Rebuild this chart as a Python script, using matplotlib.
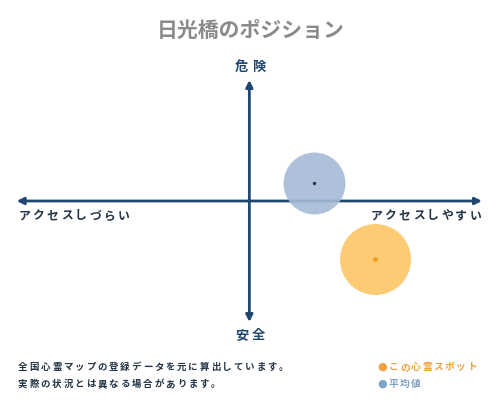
import matplotlib
matplotlib.use('Agg')
import matplotlib.pyplot as plt

plt.rcParams['font.family'] = ['Noto Sans CJK JP', 'DejaVu Sans']

# positions on the map, -1..1 on each axis (x: access, y: danger)
avg_x, avg_y = 0.28, 0.15
spot_x, spot_y = 0.54, -0.48

title = '日光橋のポジション'
label_top = '危険'
label_bottom = '安全'
label_left = 'アクセスしづらい'
label_right = 'アクセスしやすい'
note_lines = ['全国心霊マップの登録データを元に算出しています。',
              '実際の状況とは異なる場合があります。']
legend_labels = ['この心霊スポット', '平均値']

navy = '#1f4670'
orange = '#fdc665'
blue = '#a6bbd6'

fig = plt.figure(figsize=(5, 4), dpi=100)
W, H = 500, 400


def spaced(x0, y0, s, step, **kw):
    # reference text is letter spaced, so place one glyph at a time
    for i, ch in enumerate(s):
        fig.text((x0 + step * (i + 0.5)) / W, 1 - y0 / H, ch,
                 ha='center', va='center', **kw)


ax = fig.add_axes([16.7 / W, 1 - 322 / H, (482 - 16.7) / W, (322 - 80) / H])
ax.set_xlim(-1, 1)
ax.set_ylim(-1, 1)
ax.axis('off')

ax.annotate('', xy=(1, 0), xytext=(-1, 0),
            arrowprops=dict(arrowstyle='<|-|>', color=navy, lw=2,
                            mutation_scale=10, shrinkA=0, shrinkB=0),
            annotation_clip=False)
ax.annotate('', xy=(0, 1), xytext=(0, -1),
            arrowprops=dict(arrowstyle='<|-|>', color=navy, lw=2,
                            mutation_scale=10, shrinkA=0, shrinkB=0),
            annotation_clip=False)

ax.scatter([avg_x], [avg_y], s=1990, color=blue, alpha=0.9, zorder=3, linewidths=0)
ax.scatter([avg_x], [avg_y], s=2, color='#223344', zorder=4)
ax.scatter([spot_x], [spot_y], s=2612, color=orange, alpha=0.9, zorder=3, linewidths=0)
ax.scatter([spot_x], [spot_y], s=6, color='#f0a020', zorder=4)

fig.text(251 / W, 1 - 30 / H, title, ha='center', va='center', fontsize=15,
         color='#8a8a8a', fontweight='bold')
spaced(233, 67, label_top, 17, fontsize=9.5, color=navy, fontweight='bold')
spaced(233, 335, label_bottom, 17, fontsize=9.5, color=navy, fontweight='bold')
spaced(17, 216, label_left, 14.2, fontsize=8.5, color='#223344', fontweight='bold')
spaced(369, 216, label_right, 14.2, fontsize=8.5, color='#223344', fontweight='bold')

for i, line in enumerate(note_lines):
    spaced(17, 367 + 17 * i, line, 11.35, fontsize=6.8, color='#223344',
           fontweight='bold')

legend_colors = ['#f0a040', '#7fa3c8']
text_colors = ['#f0a040', '#7f9fc0']
for i, (lab, c, tc) in enumerate(zip(legend_labels, legend_colors, text_colors)):
    y = 367 + 17 * i
    fig.text(382 / W, 1 - y / H, '●', ha='center', va='center', fontsize=8,
             color=c, family='DejaVu Sans')
    spaced(388, y, lab, 11.2, fontsize=7, color=tc, fontweight='bold')

fig.savefig('out.png', dpi=100, facecolor='white')
